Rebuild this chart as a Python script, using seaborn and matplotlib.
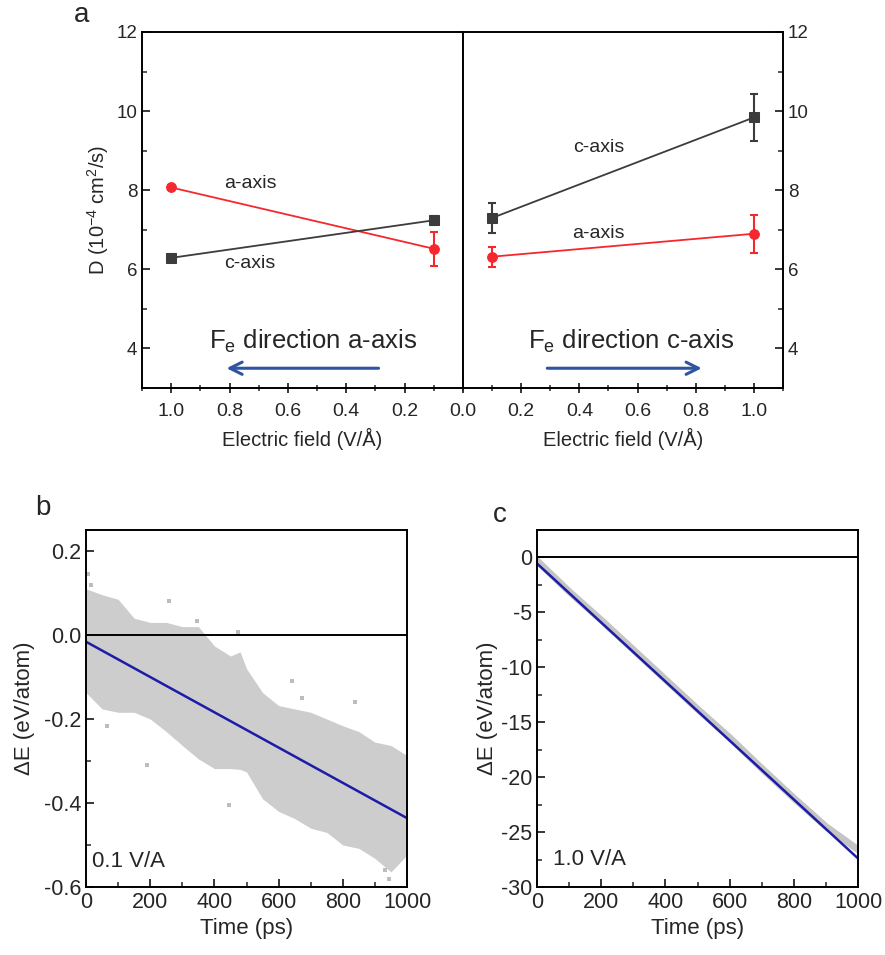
import numpy as np
import pandas as pd
import seaborn as sns
import matplotlib.pyplot as plt
from matplotlib.ticker import MultipleLocator

# panel a: diffusion coefficient vs field
field = [0.1, 1.0]
a_dir_aaxis = [6.52, 8.07]      # field along a-axis, D along a-axis
a_dir_aaxis_err = [0.43, 0.06]
a_dir_caxis = [7.24, 6.29]
a_dir_caxis_err = [0.12, 0.11]
c_dir_caxis = [7.30, 9.84]      # field along c-axis
c_dir_caxis_err = [0.37, 0.60]
c_dir_aaxis = [6.32, 6.90]
c_dir_aaxis_err = [0.25, 0.48]

# panel b: 0.1 V/A energy cloud (envelope)
time_b = [0, 50, 100, 150, 200, 250, 300, 350, 400, 450, 480, 500, 550,
          600, 650, 700, 750, 800, 850, 900, 950, 1000]
upper_b = [0.11, 0.096, 0.085, 0.04, 0.03, 0.03, 0.02, 0.02, -0.026, -0.05,
           -0.04, -0.08, -0.137, -0.168, -0.176, -0.184, -0.2, -0.216,
           -0.23, -0.255, -0.263, -0.287]
lower_b = [-0.137, -0.176, -0.184, -0.184, -0.2, -0.23, -0.263, -0.295,
           -0.318, -0.318, -0.32, -0.326, -0.39, -0.42, -0.437, -0.46,
           -0.47, -0.5, -0.508, -0.532, -0.564, -0.524]
outlier_t = [5, 15, 65, 190, 257, 346, 444, 475, 642, 673, 837, 930, 945]
outlier_e = [0.145, 0.12, -0.216, -0.31, 0.08, 0.033, -0.405, 0.006,
             -0.11, -0.149, -0.16, -0.56, -0.58]
fit_t = [0, 1000]
fit_b = [-0.016, -0.436]

# panel c: 1.0 V/A
time_c = [0, 100, 200, 300, 400, 500, 600, 700, 800, 900, 1000]
raw_c = [-0.3, -3.1, -5.7, -8.4, -11.1, -13.8, -16.4, -19.2, -21.9, -24.5, -26.6]
fit_c = [-0.55, -27.4]

sns.set_style('ticks')
plt.rcParams['font.family'] = ['Liberation Sans', 'DejaVu Sans']
plt.rcParams['mathtext.default'] = 'regular'
plt.rcParams['mathtext.fontset'] = 'custom'
plt.rcParams['mathtext.rm'] = 'Liberation Sans'
plt.rcParams['axes.linewidth'] = 1.4
plt.rcParams['axes.edgecolor'] = 'black'

RED = '#f5282d'
GREY = '#3c3c3c'
ARROW = '#2f55a0'
FIT = '#1c1ca8'

fig = plt.figure(figsize=(8.85, 9.55), dpi=100)
axL = fig.add_axes([0.1605, 0.5937, 0.3627, 0.3728])
axR = fig.add_axes([0.5232, 0.5937, 0.3616, 0.3728])
axB = fig.add_axes([0.0972, 0.0712, 0.3627, 0.3738])
axC = fig.add_axes([0.6068, 0.0712, 0.3627, 0.3738])


def d_series(ax, y, err, color, marker):
    sns.lineplot(x=field, y=y, color=color, marker=marker, markersize=7,
                 markeredgecolor=color, linewidth=1.3, ax=ax)
    ax.errorbar(field, y, yerr=err, fmt='none', ecolor=color,
                elinewidth=1.5, capsize=3, capthick=1.5)


d_series(axL, a_dir_aaxis, a_dir_aaxis_err, RED, 'o')
d_series(axL, a_dir_caxis, a_dir_caxis_err, GREY, 's')
d_series(axR, c_dir_caxis, c_dir_caxis_err, GREY, 's')
d_series(axR, c_dir_aaxis, c_dir_aaxis_err, RED, 'o')

axL.set_xlim(1.1, 0)
axR.set_xlim(0, 1.1)
for ax in (axL, axR):
    ax.set_ylim(3, 12)
    ax.yaxis.set_major_locator(MultipleLocator(2))
    ax.yaxis.set_minor_locator(MultipleLocator(1))
    ax.xaxis.set_minor_locator(MultipleLocator(0.1))
    ax.set_yticks([4, 6, 8, 10, 12])
    ax.set_xlabel('Electric field (V/Å)', fontsize=14.5, labelpad=6)
    ax.tick_params(axis='x', which='major', direction='inout', length=7,
                   width=1.3, labelsize=14, pad=7)
    ax.tick_params(axis='x', which='minor', direction='inout', length=4,
                   width=1.1)
    ax.tick_params(axis='y', which='major', direction='in', length=6,
                   width=1.3, labelsize=13.5)
    ax.tick_params(axis='y', which='minor', direction='in', length=3.5,
                   width=1.1)

axL.set_xticks([1.0, 0.8, 0.6, 0.4, 0.2])
axL.set_xticklabels(['1.0', '0.8', '0.6', '0.4', '0.2'])
axR.set_xticks([0.0, 0.2, 0.4, 0.6, 0.8, 1.0])
axR.set_xticklabels(['0.0', '0.2', '0.4', '0.6', '0.8', '1.0'])
axL.set_ylabel(r'D (10$^{-4}$ cm$^{2}$/s)', fontsize=14.5, labelpad=4)
axR.yaxis.tick_right()
axR.tick_params(axis='y', which='both', left=False, right=True)
axR.set_ylabel('')

axL.text(0.73, 8.17, 'a-axis', fontsize=14, ha='center', va='center')
axL.text(0.73, 6.16, 'c-axis', fontsize=14, ha='center', va='center')
axR.text(0.466, 9.08, 'c-axis', fontsize=14, ha='center', va='center')
axR.text(0.466, 6.9, 'a-axis', fontsize=14, ha='center', va='center')
axL.text(0.514, 4.18, r'F$_{e}$ direction a-axis', fontsize=18.5,
         ha='center', va='center')
axR.text(0.58, 4.18, r'F$_{e}$ direction c-axis', fontsize=18.5,
         ha='center', va='center')
arrow = dict(arrowstyle='->', color=ARROW, lw=2.2, mutation_scale=22)
axL.annotate('', xy=(0.82, 3.5), xytext=(0.28, 3.5), arrowprops=arrow)
axR.annotate('', xy=(0.83, 3.5), xytext=(0.28, 3.5), arrowprops=arrow)

# panel b
axB.fill_between(time_b, lower_b, upper_b, color='#cdcdcd', linewidth=0)
sns.scatterplot(x=outlier_t, y=outlier_e, color='#bdbdbd', marker='s', s=5,
                linewidth=0, ax=axB)
axB.axhline(0, color='black', lw=1.4)
sns.lineplot(x=fit_t, y=fit_b, color=FIT, linewidth=1.8, ax=axB)
axB.set_xlim(0, 1000)
axB.set_ylim(-0.6, 0.25)
axB.set_yticks([-0.6, -0.4, -0.2, 0.0, 0.2])
axB.set_yticklabels(['-0.6', '-0.4', '-0.2', '0.0', '0.2'])
axB.yaxis.set_minor_locator(MultipleLocator(0.1))
axB.set_ylabel('ΔE (eV/atom)', fontsize=16, labelpad=6)
axB.text(18, -0.54, '0.1 V/A', fontsize=16, ha='left', va='center')

# panel c
sns.lineplot(x=time_c, y=raw_c, color='#c4c4c4', linewidth=5, ax=axC)
axC.axhline(0, color='black', lw=1.4)
sns.lineplot(x=fit_t, y=fit_c, color=FIT, linewidth=1.8, ax=axC)
axC.set_xlim(0, 1000)
axC.set_ylim(-30, 2.5)
axC.set_yticks([-30, -25, -20, -15, -10, -5, 0])
axC.set_yticklabels(['-30', '-25', '-20', '-15', '-10', '-5', '0'])
axC.yaxis.set_minor_locator(MultipleLocator(2.5))
axC.set_ylabel('ΔE (eV/atom)', fontsize=16, labelpad=2)
axC.text(50, -27.5, '1.0 V/A', fontsize=16, ha='left', va='center')

for ax in (axB, axC):
    ax.set_xticks([0, 200, 400, 600, 800, 1000])
    ax.xaxis.set_minor_locator(MultipleLocator(100))
    ax.set_xlabel('Time (ps)', fontsize=16, labelpad=4)
    ax.tick_params(which='major', direction='in', length=6, width=1.3,
                   labelsize=15.5)
    ax.tick_params(which='minor', direction='in', length=3.5, width=1.1)

fig.text(82 / 885, 1 - 15 / 955, 'a', fontsize=20, ha='center', va='center')
fig.text(43 / 885, 1 - 508 / 955, 'b', fontsize=20, ha='center', va='center')
fig.text(500 / 885, 1 - 515 / 955, 'c', fontsize=20, ha='center', va='center')

fig.savefig('out.png', dpi=100)
